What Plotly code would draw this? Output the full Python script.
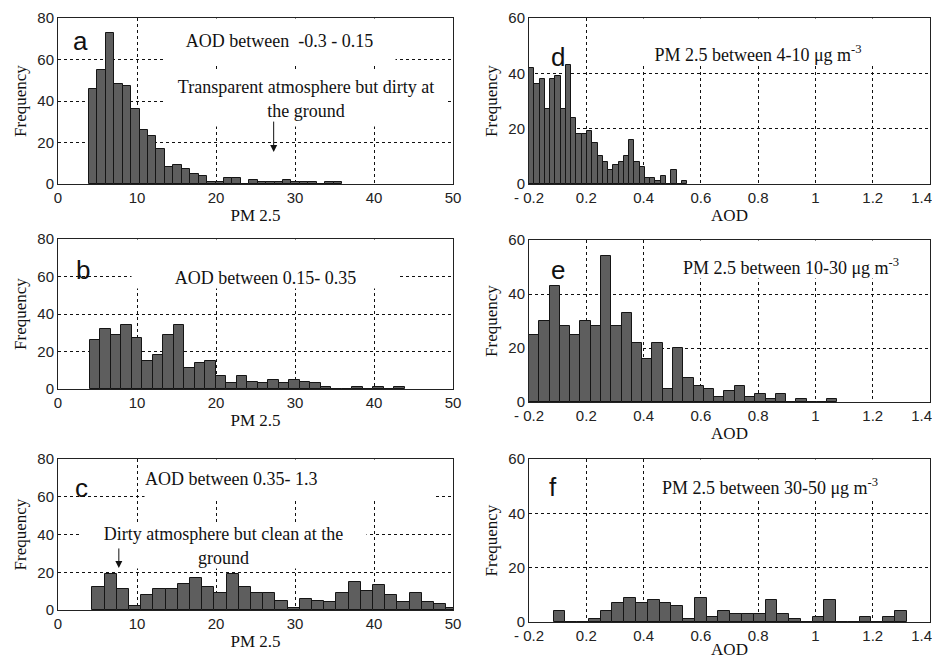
import plotly.graph_objects as go

# ---------------- data ----------------
# Left column: PM2.5 histograms (30 bins each)
a_bin_start, a_bin_width = 3.92, 1.068
a_counts = [46, 55, 73, 48, 47, 36, 26, 23, 17, 8, 9, 7, 5, 4, 1, 1, 3, 3, 0, 2,
            1, 1, 1, 2, 1, 1, 1, 0, 1, 1]
b_bin_start, b_bin_width = 4.0, 1.33
b_counts = [26, 32, 29, 34, 27, 15, 18, 29, 34, 11, 14, 15, 7, 3, 7, 4, 3, 5, 3, 5,
            4, 3, 1, 0, 0, 1, 0, 1, 0, 1]
c_bin_start, c_bin_width = 4.35, 1.544
c_counts = [12, 19, 11, 2, 8, 11, 11, 14, 17, 12, 9, 19, 12, 9, 9, 5, 1, 6, 5, 4,
            9, 15, 10, 13, 8, 4, 9, 4, 3, 1]
# Right column: AOD histograms (30 bins each)
d_bin_start, d_bin_width = 0.0, 0.0184
d_counts = [42, 36, 38, 27, 38, 39, 27, 43, 24, 18, 18, 19, 15, 10, 8, 5, 7, 8, 10, 16,
            8, 6, 2, 2, 1, 3, 0, 5, 0, 1]
e_bin_start, e_bin_width = 0.0, 0.0359
e_counts = [25, 30, 43, 28, 25, 30, 28, 54, 28, 33, 22, 16, 22, 5, 20, 9, 6, 5, 2, 4,
            6, 2, 3, 1, 3, 0, 1, 0, 0, 1]
f_bin_start, f_bin_width = 0.086, 0.0411
f_counts = [4, 0, 0, 1, 4, 7, 9, 7, 8, 7, 6, 1, 9, 2, 4, 3, 3, 3, 8, 3,
            1, 0, 2, 8, 0, 0, 2, 0, 2, 4]

left_xticks = [0, 10, 20, 30, 40, 50]
left_yticks = [0, 20, 40, 60, 80]
right_xticks = [0, 0.2, 0.4, 0.6, 0.8, 1.0, 1.2, 1.4]
right_xticktext = ["- 0.2", "0.2", "0.4", "0.6", "0.8", "1", "1.2",
                   "1.4\u00a0\u00a0\u00a0\u00a0"]
right_yticks = [0, 20, 40, 60]

titles = {
    "a": "AOD between\u00a0 -0.3 - 0.15",
    "b": "AOD between 0.15- 0.35",
    "c": "AOD between 0.35- 1.3",
    "d": "PM 2.5 between 4-10 μg m<sup>-3</sup>",
    "e": "PM 2.5 between 10-30 μg m<sup>-3</sup>",
    "f": "PM 2.5 between 30-50 μg m<sup>-3</sup>",
}
note_a = "Transparent atmosphere but dirty at<br>the ground"
note_c = "Dirty atmosphere but clean at the<br>ground"

# ---------------- figure ----------------
# The page body has an 8px margin, so the figure is sized to fill the rest of the window.
OFF = 8
W, H = 940 - OFF, 659 - OFF
SERIF = "Liberation Serif, Times New Roman, serif"
SANS = "Liberation Sans, Arial, sans-serif"
BAR_FILL = "#5e5e5e"
BAR_LINE = "#151515"

def px_x(p):
    return (p - OFF) / W

def px_y(p):
    return 1 - (p - OFF) / H

# panel boxes in window pixels: (left, right, top, bottom)
boxes = {
    "a": (58, 453, 18, 184),
    "b": (58, 453, 239, 389),
    "c": (58, 453, 459, 610),
    "d": (529, 930, 18, 184),
    "e": (529, 930, 240, 402),
    "f": (529, 930, 459, 622),
}
panels = [
    ("a", a_bin_start, a_bin_width, a_counts, "left"),
    ("b", b_bin_start, b_bin_width, b_counts, "left"),
    ("c", c_bin_start, c_bin_width, c_counts, "left"),
    ("d", d_bin_start, d_bin_width, d_counts, "right"),
    ("e", e_bin_start, e_bin_width, e_counts, "right"),
    ("f", f_bin_start, f_bin_width, f_counts, "right"),
]

fig = go.Figure()
layout = dict(
    width=W, height=H, margin=dict(l=0, r=0, t=0, b=0, autoexpand=False),
    paper_bgcolor="white", plot_bgcolor="white", showlegend=False,
    bargap=0,
)
grid = dict(showgrid=True, gridcolor="#111111", gridwidth=1, griddash="3px,3px",
            zeroline=False, showline=True, linecolor="#222222", linewidth=1,
            mirror=True, ticks="", layer="below traces", automargin=False,
            ticklabeloverflow="allow")

for i, (key, start, width, counts, side) in enumerate(panels, start=1):
    centers = [start + width * (k + 0.5) for k in range(len(counts))]
    xname = "x" if i == 1 else f"x{i}"
    yname = "y" if i == 1 else f"y{i}"
    fig.add_trace(go.Bar(
        x=centers, y=counts, width=width, xaxis=xname, yaxis=yname,
        marker=dict(color=BAR_FILL, line=dict(color=BAR_LINE, width=1)),
        hoverinfo="x+y",
    ))
    l, r, t, b = boxes[key]
    xa = dict(grid, domain=[px_x(l), px_x(r)], anchor=yname,
              tickfont=dict(family=SANS, size=15, color="#222222"))
    ya = dict(grid, domain=[px_y(b), px_y(t)], anchor=xname,
              tickfont=dict(family=SANS, size=15, color="#222222"),
              title=dict(text="Frequency", font=dict(family=SERIF, size=17, color="#111111"),
                         standoff=6))
    if side == "left":
        xa.update(range=[0, 50], tickvals=left_xticks)
        ya.update(range=[0, 80], tickvals=left_yticks)
    else:
        xa.update(range=[0, 1.4], tickvals=right_xticks, ticktext=right_xticktext)
        ya.update(range=[0, 60], tickvals=right_yticks)
    xt = "PM 2.5" if side == "left" else "AOD"
    xa["title"] = dict(text=xt, font=dict(family=SERIF, size=17, color="#111111"), standoff=4)
    layout["xaxis" if i == 1 else f"xaxis{i}"] = xa
    layout["yaxis" if i == 1 else f"yaxis{i}"] = ya

fig.update_layout(**layout)

def ax_refs(i):
    return ("x" if i == 1 else f"x{i}", "y" if i == 1 else f"y{i}")

ann = []
tfont = dict(family=SERIF, size=18, color="#111111")
lfont = dict(family=SANS, size=26, color="#111111")

# titles with white boxes (x center, y top, width, height, valign, align)
title_specs = {
    "a": (1, 28.0, 80, 231, 44, "middle", "center"),
    "b": (2, 26.3, 80, 267, 48, "bottom", "center"),
    "c": (3, 29.2, 80, 288, 38, "middle", "left"),
    "d": (4, 0.80, 60, 232, 46, "bottom", "center"),
    "e": (5, 0.915, 60, 262, 37, "bottom", "center"),
    "f": (6, 0.842, 60, 232, 38, "bottom", "center"),
}
for key, (i, xc, ytop, w, h, va, al) in title_specs.items():
    xr, yr = ax_refs(i)
    ann.append(dict(xref=xr, yref=yr, x=xc, y=ytop, yanchor="top", xanchor="center",
                    text=titles[key], showarrow=False, font=tfont, bgcolor="white",
                    width=w, height=h, valign=va, align=al, borderpad=0))

# notes
ann.append(dict(xref="x", yref="y", x=31.4, y=41, text=note_a, showarrow=False,
                font=tfont, bgcolor="white", width=282, height=54, borderpad=0))
ann.append(dict(xref="x", yref="y", x=27.3, y=15.4, ax=27.3, ay=30.8, axref="x", ayref="y",
                text="", showarrow=True, arrowhead=2, arrowsize=1.4, arrowwidth=1,
                arrowcolor="#111111"))
ann.append(dict(xref="x3", yref="y3", x=21.0, y=33.9, text=note_c, showarrow=False,
                font=tfont, bgcolor="white", width=285, height=44, borderpad=0))
ann.append(dict(xref="x3", yref="y3", x=7.7, y=22.3, ax=7.7, ay=33.4, axref="x3", ayref="y3",
                text="", showarrow=True, arrowhead=2, arrowsize=1.4, arrowwidth=1,
                arrowcolor="#111111"))

# panel letters
letters = [("a", 1, 2.9, 68.9), ("b", 2, 3.2, 63.5), ("c", 3, 3.0, 64.6),
           ("d", 4, 0.101, 45.9), ("e", 5, 0.101, 48.9), ("f", 6, 0.084, 49.7)]
for txt, i, xv, yv in letters:
    xr, yr = ax_refs(i)
    ann.append(dict(xref=xr, yref=yr, x=xv, y=yv, text=txt, showarrow=False, font=lfont))

fig.update_layout(annotations=ann)
fig.write_html("out.html")
